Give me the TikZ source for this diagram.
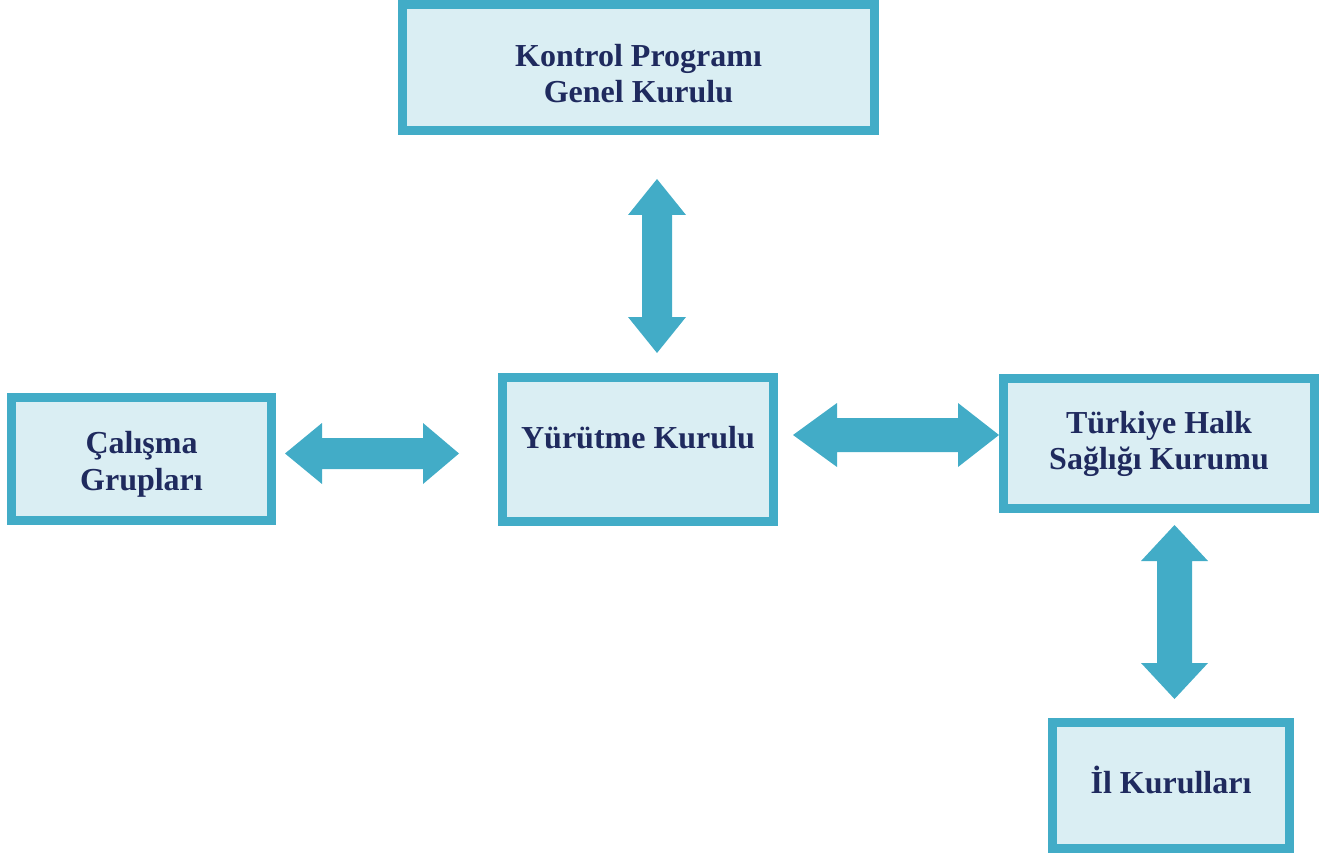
\documentclass[tikz,border=0pt]{standalone}
\usepackage{fontspec}
\setmainfont{Liberation Serif}
\definecolor{bordc}{HTML}{42ACC7}
\definecolor{fillc}{HTML}{DAEEF3}
\definecolor{textc}{HTML}{1F2A5E}
\tikzset{
  orgbox/.style={draw=bordc, fill=fillc, line width=9pt, inner sep=0pt, rectangle},
  lbl/.style={text=textc, font=\fontsize{32}{36.5}\selectfont\bfseries, align=center, inner sep=0pt},
  dblarrow/.style={fill=bordc, draw=none}
}
\begin{document}
\begin{tikzpicture}[x=1pt, y=-1pt]
\useasboundingbox (0,0) rectangle (1321,858);
% boxes
\node[orgbox, minimum width=472pt, minimum height=126pt] (top) at (638.5,67.5) {};
\node[orgbox, minimum width=260pt, minimum height=123pt] (cal) at (141.5,459) {};
\node[orgbox, minimum width=271pt, minimum height=144pt] (yur) at (638,449.5) {};
\node[orgbox, minimum width=311pt, minimum height=130pt] (tur) at (1159,443.5) {};
\node[orgbox, minimum width=237pt, minimum height=126pt] (il) at (1171,785.5) {};
% labels (base anchor = baseline of the last line)
\node[lbl, anchor=base] (topt) at (638.5,103) {Kontrol Programı\\Genel Kurulu};
\node[lbl, anchor=base] (calt) at (141.5,490) {Çalışma\\Grupları};
\node[lbl, anchor=base] (yurt) at (638,448) {Yürütme Kurulu};
\node[lbl, anchor=base] (turt) at (1159,469.5) {Türkiye Halk\\Sağlığı Kurumu};
\node[lbl, anchor=base] (ilt) at (1171,793) {İl Kurulları};
% double arrows
\fill[dblarrow] (657,179) -- (686,215) -- (672,215) -- (672,317) -- (686,317) -- (657,353)
  -- (628,317) -- (642,317) -- (642,215) -- (628,215) -- cycle;
\fill[dblarrow] (285,453.5) -- (322,423) -- (322,438) -- (423,438) -- (423,423) -- (459,453.5)
  -- (423,484) -- (423,469) -- (322,469) -- (322,484) -- cycle;
\fill[dblarrow] (793,435) -- (837,403) -- (837,418) -- (958,418) -- (958,403) -- (999,435)
  -- (958,467) -- (958,452) -- (837,452) -- (837,467) -- cycle;
\fill[dblarrow] (1174.5,525) -- (1208,561) -- (1192,561) -- (1192,663) -- (1208,663) -- (1174.5,699)
  -- (1141,663) -- (1157,663) -- (1157,561) -- (1141,561) -- cycle;
\end{tikzpicture}
\end{document}
